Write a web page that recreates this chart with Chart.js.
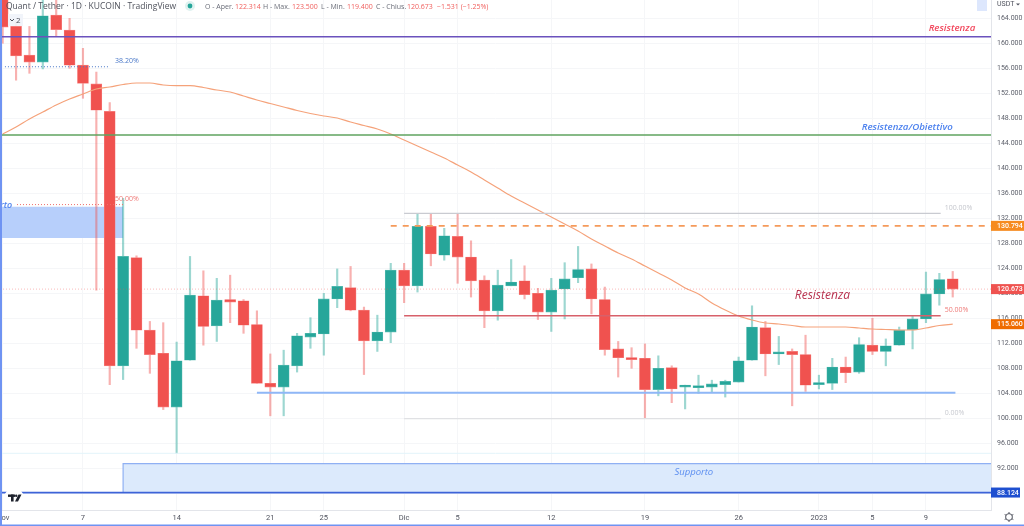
<!DOCTYPE html>
<html>
<head>
<meta charset="utf-8">
<title>Quant / Tether</title>
<script src="https://cdn.jsdelivr.net/npm/chart.js@4/dist/chart.umd.min.js"></script>
<style>
    html, body { margin: 0; padding: 0; background: #fff; overflow: hidden; }
    #wrap { position: relative; width: 1024px; height: 526px; }
</style>
</head>
<body>
<div id="wrap"><canvas id="chart" width="1024" height="526"></canvas></div>
<script>
// Candele giornaliere, 1 novembre - 11 gennaio (giorno 0 = 1 nov)
const opens = [168, 162.7, 158.1, 157, 164.5, 162.1, 156.5, 153.5, 149.1, 108.4, 125.7, 114.1, 110.4, 101.8, 109.3, 119.6, 114.8, 119, 118.8, 115, 105.6, 105, 108.4, 113, 113.5, 119.1, 120.9, 117.3, 112.4, 113.8, 123.7, 121.2, 130.7, 126.1, 129.1, 125.8, 122.1, 117.2, 121.2, 122, 120, 117, 120.7, 122.5, 123.9, 119, 111.1, 109.5, 109.6, 104.6, 108.1, 105, 104.9, 105, 105.4, 105.8, 109.3, 114.5, 110.3, 110.7, 110.2, 105.4, 105.6, 108.2, 107.4, 111.7, 110.7, 111.7, 114.2, 115.9, 119.9, 122.314];
const highs = [170, 163.5, 162.7, 167, 167, 164, 159.2, 155.4, 150.5, 135.2, 126, 115.5, 115.3, 112.2, 125.9, 123.6, 122.4, 122.9, 119, 117.2, 110.3, 110.9, 113.6, 116.1, 120, 123.9, 124.3, 117.8, 116.5, 124.8, 124.8, 132.8, 132.8, 130.4, 132.8, 128.4, 122.8, 123.7, 125.4, 124.4, 120.8, 122.4, 124.9, 127.5, 124.7, 121, 112.3, 111.3, 111.9, 110, 108.4, 105.3, 106.9, 106.1, 106.1, 109.8, 118, 115.5, 113.1, 111.1, 113.3, 106.9, 109.6, 109.8, 112.9, 116, 112.7, 114.6, 116.4, 123.4, 123.2, 123.5];
const lows = [160, 154.1, 155.2, 155.9, 161.2, 156, 151.2, 120.5, 105.4, 106.2, 111.2, 107.2, 101.4, 94.4, 109.3, 111.7, 112.3, 115.3, 113.6, 105.6, 100.4, 100.4, 107.4, 111.2, 110.1, 117.7, 117.2, 107, 110.7, 112.1, 118.5, 120.2, 124.4, 125.3, 121.6, 119.4, 114.5, 115.7, 121.2, 119.1, 115.8, 113.9, 115.9, 121.7, 116.7, 110.1, 106.6, 108, 100, 103.6, 102.5, 101.5, 104, 104.1, 103.4, 105.8, 109.3, 106.8, 108.6, 102, 104.3, 104.7, 104.6, 105.7, 107.2, 110.2, 108.4, 111.7, 111.1, 115.3, 118.1, 119.4];
const closes = [162.6, 158, 157, 164.4, 162.2, 156.5, 153.6, 149.3, 108.4, 125.9, 114.1, 110.2, 101.8, 109.2, 119.7, 114.7, 118.9, 118.6, 114.9, 105.6, 105, 108.5, 113.2, 113.6, 119.1, 121.1, 117.3, 112.4, 113.8, 123.7, 121.2, 130.7, 126.3, 129.2, 125.8, 122, 117.2, 121.3, 121.8, 119.8, 117, 120.5, 122.3, 123.8, 119.1, 111, 109.7, 109.4, 104.6, 108, 104.7, 105.1, 105.1, 105.5, 105.9, 109.2, 114.6, 110.3, 110.4, 110.2, 105.3, 105.7, 108.2, 107.3, 111.8, 110.7, 111.6, 114.1, 115.9, 119.9, 122.2, 120.673];
const emaValues = [145.49, 146.61, 147.89, 149.01, 150.13, 151.09, 151.89, 152.69, 153.01, 153.41, 153.65, 153.65, 153.33, 153.22, 153.22, 152.93, 152.53, 152.21, 151.57, 150.93, 150.37, 149.81, 149.25, 148.77, 148.37, 148.05, 147.41, 146.85, 146.29, 145.49, 144.53, 143.57, 142.61, 141.65, 140.53, 139.41, 138.13, 136.85, 135.57, 134.45, 133.33, 132.21, 131.09, 129.97, 128.69, 127.57, 126.45, 125.49, 124.37, 123.25, 122.13, 120.85, 119.89, 118.45, 117.33, 116.37, 115.73, 115.25, 115.09, 114.85, 114.61, 114.61, 114.61, 114.61, 114.45, 114.29, 114.21, 114.13, 114.13, 114.45, 114.85, 115.06];

// Assi
const priceTicks = [88, 92, 96, 100, 104, 108, 112, 116, 120, 124, 128, 132, 136, 140, 144, 148, 152, 156, 160, 164];
const dayTicks = [0, 6, 13, 20, 24, 30, 34, 41, 48, 55, 61, 65, 69];
const dayTickLabels = ['Nov', '7', '14', '21', '25', 'Dic', '5', '12', '19', '26', '2023', '5', '9'];

// Livelli disegnati sul grafico
const resistenzaLevel = 161.06;
const obiettivoLevel = 145.33;
const fib382Level = 156.25;
const fib500OldLevel = 134.2;
const orangeLevel = 130.794;
const fib100Level = 132.8;
const fib50Level = 116.4;
const fib0Level = 99.95;
const supportLineLevel = 104.1;
const lastLowLevel = 94.4;
const lastPrice = 120.673;
const supportoBase = 88.124;
const supportoTop = 92.74;
const zoneTop = 133.85;
const zoneBottom = 128.85;

const days = opens.map((v, i) => i);
const red = '#f0524f', green = '#26a69a';
const isUp = days.map(i => closes[i] >= opens[i]);

function level(from, to, price, color, width, dash) {
    return {
        type: 'line',
        data: [{ x: from, y: price }, { x: to, y: price }],
        borderColor: color,
        borderWidth: width,
        borderDash: dash || [],
        pointRadius: 0,
        order: 1
    };
}

const xLeft = -0.2, xRight = 73.86;

// zone colorate sotto le candele
const zonesPlugin = {
    id: 'zones',
    beforeDatasetsDraw(chart) {
        const { ctx, scales: { x, y }, chartArea } = chart;
        ctx.save();
        ctx.fillStyle = '#b7cffb';
        ctx.fillRect(chartArea.left, y.getPixelForValue(zoneTop), x.getPixelForValue(9) - chartArea.left, y.getPixelForValue(zoneBottom) - y.getPixelForValue(zoneTop));
        const sx = x.getPixelForValue(9);
        const sTop = y.getPixelForValue(supportoTop), sBot = y.getPixelForValue(supportoBase);
        ctx.fillStyle = '#dceafc';
        ctx.fillRect(sx, sTop, chartArea.right - sx, sBot - sTop);
        ctx.strokeStyle = '#8fb0f3';
        ctx.lineWidth = 1.2;
        ctx.beginPath();
        ctx.moveTo(chartArea.right, sTop);
        ctx.lineTo(sx, sTop);
        ctx.lineTo(sx, sBot);
        ctx.stroke();
        ctx.restore();
    }
};

const labels = [
    { text: 'Resistenza', day: 69.2, price: 162.45, color: '#f2495e', font: 'italic 600 9.7px "Open Sans"' },
    { text: 'Resistenza/Obiettivo', day: 64.2, price: 146.6, color: '#4d82ee', font: 'italic 600 9.7px "Open Sans"' },
    { text: 'Resistenza', day: 59.2, price: 119.7, color: '#b8324f', font: 'italic 12px "Open Sans"' },
    { text: 'Supporto', day: 50.2, price: 91.4, color: '#5a8df0', font: 'italic 9.5px "Open Sans"' },
    { text: 'rto', day: -0.2, price: 134.1, color: '#4d82ee', font: 'italic 600 9px "Open Sans"' },
    { text: '38.20%', day: 8.4, price: 157.2, color: '#4a78c8', font: '7px "Open Sans"' },
    { text: '50.00%', day: 8.4, price: 135.1, color: '#ee7a78', font: '7px "Open Sans"' },
    { text: '100.00%', day: 70.4, price: 133.6, color: '#c4c6cc', font: '7px "Open Sans"' },
    { text: '50.00%', day: 70.4, price: 117.3, color: '#ee7a78', font: '7px "Open Sans"' },
    { text: '0.00%', day: 70.4, price: 100.9, color: '#c8cad0', font: '7px "Open Sans"' }
];

const tags = [
    { price: orangeLevel, bg: '#f68b1f', right: 1024 },
    { price: lastPrice, bg: '#ef5350', right: 1024 },
    { price: emaValues[emaValues.length - 1], bg: '#ef6c00', right: 1024 },
    { price: supportoBase, bg: '#1e4fd0', right: 1020 }
];

const headerParts = [
    { text: 'O - Aper.', x: 205, color: '#6a6d78' },
    { text: '122.314', x: 235, color: '#f0605e' },
    { text: 'H - Max.', x: 263, color: '#6a6d78' },
    { text: '123.500', x: 292, color: '#f0605e' },
    { text: 'L - Min.', x: 321, color: '#6a6d78' },
    { text: '119.400', x: 347, color: '#f0605e' },
    { text: 'C - Chius.', x: 376, color: '#6a6d78' },
    { text: '120.673', x: 407, color: '#f0605e' },
    { text: '\u22121.531 (\u22121.25%)', x: 437, color: '#f0605e' }
];

function drawLogo(ctx) {
    ctx.fillStyle = '#fff';
    ctx.beginPath();
    ctx.arc(14, 498, 10, 0, Math.PI * 2);
    ctx.fill();
    ctx.fillStyle = '#1e222d';
    ctx.fillRect(8, 494.5, 7, 2.4);
    ctx.fillRect(11, 494.5, 2.6, 7);
    ctx.beginPath();
    ctx.arc(16.2, 495.7, 1.2, 0, Math.PI * 2);
    ctx.fill();
    ctx.beginPath();
    ctx.moveTo(18.5, 494.5);
    ctx.lineTo(21.5, 494.5);
    ctx.lineTo(18, 501.5);
    ctx.lineTo(15, 501.5);
    ctx.fill();
}

function drawGear(ctx, cx, cy) {
    ctx.strokeStyle = '#50535e';
    ctx.lineWidth = 1;
    ctx.beginPath();
    ctx.arc(cx, cy, 3.4, 0, Math.PI * 2);
    ctx.stroke();
    for (let a = 0; a < 6; a++) {
        const ang = a * Math.PI / 3 + Math.PI / 6;
        ctx.beginPath();
        ctx.moveTo(cx + Math.cos(ang) * 3.4, cy + Math.sin(ang) * 3.4);
        ctx.lineTo(cx + Math.cos(ang) * 5, cy + Math.sin(ang) * 5);
        ctx.stroke();
    }
}

// testi, etichette di prezzo e controlli di TradingView
const overlayPlugin = {
    id: 'overlay',
    afterDraw(chart) {
        const { ctx, scales: { x, y }, chartArea } = chart;
        ctx.save();
        ctx.textBaseline = 'middle';
        ctx.textAlign = 'left';

        labels.forEach(l => {
            ctx.font = l.font;
            ctx.fillStyle = l.color;
            ctx.fillText(l.text, x.getPixelForValue(l.day), y.getPixelForValue(l.price));
        });

        tags.forEach(t => {
            const py = y.getPixelForValue(t.price);
            ctx.fillStyle = t.bg;
            ctx.fillRect(chartArea.right, py - 5, t.right - chartArea.right, 10);
            ctx.fillStyle = '#fff';
            ctx.font = '500 7px Roboto';
            ctx.fillText(t.price.toFixed(3), 997, py + 0.5);
        });

        // intestazione
        ctx.font = '8.5px "Open Sans"';
        ctx.fillStyle = '#4f525c';
        ctx.fillText('Quant / Tether \u00b7 1D \u00b7 KUCOIN \u00b7 TradingView', 6, 6.5);
        ctx.fillStyle = 'rgba(38,166,154,0.15)';
        ctx.beginPath();
        ctx.arc(190, 6, 5, 0, Math.PI * 2);
        ctx.fill();
        ctx.fillStyle = green;
        ctx.beginPath();
        ctx.arc(190, 6, 2.4, 0, Math.PI * 2);
        ctx.fill();
        ctx.font = '7px "Open Sans"';
        headerParts.forEach(p => {
            ctx.fillStyle = p.color;
            ctx.fillText(p.text, p.x, 6.5);
        });

        // pulsante a scomparsa
        ctx.fillStyle = 'rgba(240,243,250,0.92)';
        ctx.fillRect(8, 14, 15, 12);
        ctx.fillStyle = '#4f525c';
        ctx.font = '8px "Open Sans"';
        ctx.fillText('2', 16, 20.5);
        ctx.strokeStyle = '#4f525c';
        ctx.lineWidth = 1;
        ctx.beginPath();
        ctx.moveTo(10, 19);
        ctx.lineTo(12, 21);
        ctx.lineTo(14, 19);
        ctx.stroke();

        // USDT e icone
        ctx.fillStyle = '#dde7fd';
        ctx.fillRect(977, 0, 10, 11);
        ctx.fillStyle = '#50535e';
        ctx.font = '7px Roboto';
        ctx.fillText('USDT', 997, 4.5);
        ctx.beginPath();
        ctx.moveTo(1016, 3.5);
        ctx.lineTo(1020, 3.5);
        ctx.lineTo(1018, 5.5);
        ctx.fill();
        drawGear(ctx, 1009, 517);
        drawLogo(ctx);

        // cornice blu dello screenshot
        ctx.fillStyle = '#6f93f2';
        ctx.fillRect(0, 0, 2, 526);
        ctx.fillRect(0, 524.5, 1024, 1.5);
        ctx.restore();
    }
};

new Chart(document.getElementById('chart').getContext('2d'), {
    type: 'bar',
    data: {
        datasets: [
            // corpi
            {
                data: days.map(i => ({ x: i, y: [opens[i], closes[i]] })),
                backgroundColor: days.map(i => isUp[i] ? green : red),
                borderColor: days.map(i => isUp[i] ? '#5dbdb3' : '#f78583'),
                borderWidth: 0.6,
                borderSkipped: false,
                barThickness: 11,
                minBarLength: 2,
                grouped: false,
                order: 3
            },
            // stoppini
            {
                data: days.map(i => ({ x: i, y: [lows[i], highs[i]] })),
                backgroundColor: days.map(i => isUp[i] ? 'rgba(38,166,154,0.45)' : 'rgba(240,82,79,0.45)'),
                barThickness: 1.5,
                grouped: false,
                order: 4
            },
            {
                type: 'line',
                data: days.map(i => ({ x: i, y: emaValues[i] })),
                borderColor: '#f5a27a',
                borderWidth: 1.2,
                pointRadius: 0,
                cubicInterpolationMode: 'monotone',
                order: 2
            },
            level(xLeft, xRight, lastPrice, 'rgba(240,82,79,0.4)', 1, [1, 2]),
            level(xLeft, xRight, lastLowLevel, '#e3f4fa', 1),
            level(xLeft, xRight, resistenzaLevel, '#6b52bd', 1.6),
            level(xLeft, xRight, obiettivoLevel, '#5fa35f', 1.6),
            level(0.17, 8, fib382Level, '#4a78c8', 1, [1, 2]),
            level(1.07, 9, fib500OldLevel, '#ee6f6c', 1, [1, 2]),
            level(29, xRight, orangeLevel, '#f59a5a', 1.6, [6, 6]),
            level(30, 70.1, fib100Level, '#c9cbd1', 1.2),
            level(30, 70.1, fib50Level, '#d7606a', 1.6),
            level(30, 70.1, fib0Level, '#e0e1e4', 1.2),
            level(19, 71.2, supportLineLevel, '#8fb7f7', 2),
            level(xLeft, xRight, supportoBase, '#3d63d8', 1.8)
        ]
    },
    options: {
        responsive: false,
        animation: false,
        devicePixelRatio: 1,
        layout: { padding: 0 },
        plugins: { legend: { display: false }, tooltip: { enabled: false } },
        scales: {
            x: {
                type: 'linear',
                min: xLeft,
                max: xRight,
                offset: false,
                grid: { color: '#f5f6f8', offset: false, drawTicks: false },
                border: { color: '#e3e5ea' },
                afterBuildTicks(scale) {
                    scale.ticks = dayTicks.map(v => ({ value: v }));
                },
                ticks: {
                    autoSkip: false,
                    maxRotation: 0,
                    padding: 4,
                    color: '#50535e',
                    font: { family: 'Roboto', size: 7.5 },
                    callback: (v) => dayTickLabels[dayTicks.indexOf(v)]
                },
                afterFit(scale) {
                    scale.height = 16;
                    scale.paddingLeft = 0;
                    scale.paddingRight = 0;
                }
            },
            y: {
                type: 'linear',
                position: 'right',
                min: 85.33,
                max: 166.93,
                grid: { color: '#f5f6f8', drawTicks: false },
                border: { color: '#e3e5ea' },
                afterBuildTicks(scale) {
                    scale.ticks = priceTicks.map(v => ({ value: v }));
                },
                ticks: {
                    autoSkip: false,
                    padding: 6,
                    color: '#5d606b',
                    font: { family: 'Roboto', size: 7 },
                    callback: (v) => v.toFixed(3)
                },
                afterFit(scale) {
                    scale.width = 33;
                    scale.paddingTop = 0;
                    scale.paddingBottom = 0;
                }
            }
        }
    },
    plugins: [zonesPlugin, overlayPlugin]
});
</script>
</body>
</html>
